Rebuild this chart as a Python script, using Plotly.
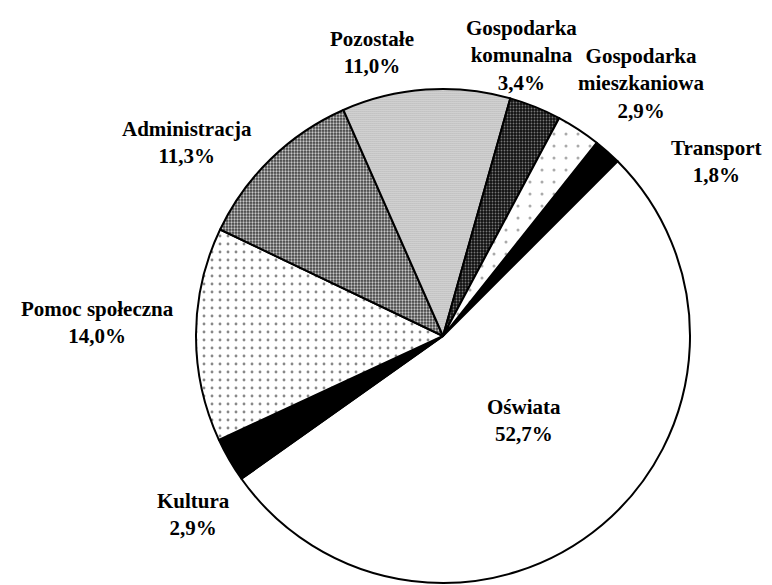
import plotly.graph_objects as go

# ---- data ----
categories = ["Transport", "Oświata", "Kultura", "Pomoc społeczna",
              "Administracja", "Pozostałe", "Gospodarka<br>komunalna",
              "Gospodarka<br>mieszkaniowa"]
values = [1.8, 52.7, 2.9, 14.0, 11.3, 11.0, 3.4, 2.9]

# ---- styling ----
OFF = 8                      # default page body margin
W, H = 772 - OFF, 585 - OFF  # figure size
cx, cy, r = 443 - OFF, 336 - OFF, 247

base_colors = ["#000000", "#ffffff", "#000000", "#ffffff", "#404040",
               "#ffffff", "#111111", "#ffffff"]
pat_shapes = ["", "", "", ".", ".", ".", ".", "."]
pat_fg = ["#000000", "#ffffff", "#000000", "#888888", "#c8c8c8",
          "#999999", "#777777", "#aaaaaa"]
pat_size = [4, 4, 4, 8, 3, 2, 3, 12]
pat_solid = [0.3, 0.3, 0.3, 0.1, 0.45, 0.6, 0.3, 0.05]

# label block centres in page pixels (x, y)
label_pos = [(716, 162), (524, 420), (193, 514), (97, 323),
             (187, 142), (372, 52), (521, 56), (641, 83)]

fig = go.Figure(go.Pie(
    labels=categories,
    values=values,
    sort=False,
    direction="clockwise",
    rotation=38.5,
    textinfo="none",
    hoverinfo="label+percent",
    marker=dict(colors=base_colors, line=dict(color="#000000", width=2),
                pattern=dict(shape=pat_shapes, fgcolor=pat_fg,
                             bgcolor=base_colors, size=pat_size,
                             solidity=pat_solid, fillmode="replace")),
    domain=dict(x=[(cx - r) / W, (cx + r) / W],
                y=[(H - cy - r) / H, (H - cy + r) / H]),
    showlegend=False,
))

annotations = []
for cat, val, (px, py) in zip(categories, values, label_pos):
    lines = cat.split("<br>") + [f"{val:.1f}".replace(".", ",") + "%"]
    txt = "<br>".join("<b>" + ln + "</b>" for ln in lines)
    annotations.append(dict(
        x=(px - OFF) / W, y=1 - (py - OFF) / H, xref="paper", yref="paper",
        text=txt, showarrow=False, xanchor="center", yanchor="middle",
        align="center",
        font=dict(family="Liberation Serif", size=21, color="#000000"),
    ))

fig.update_layout(
    width=W, height=H,
    margin=dict(l=0, r=0, t=0, b=0),
    paper_bgcolor="#ffffff",
    plot_bgcolor="#ffffff",
    annotations=annotations,
)

fig.write_html("out.html")
